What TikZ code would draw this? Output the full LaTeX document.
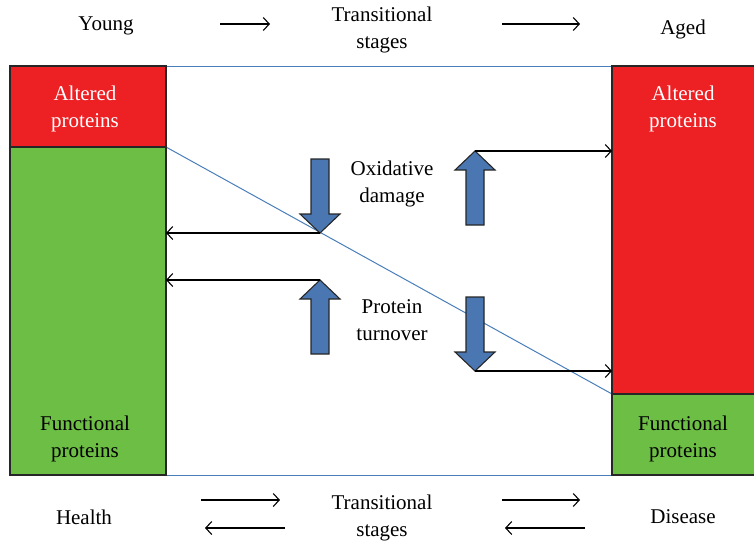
\documentclass[tikz,border=0pt]{standalone}
\usepackage{fontspec}
\setmainfont{Liberation Serif}
\usetikzlibrary{arrows,arrows.meta}
\definecolor{barred}{RGB}{237,32,36}
\definecolor{bargreen}{RGB}{109,190,69}
\definecolor{arrowblue}{RGB}{74,119,178}
\definecolor{lineblue}{RGB}{74,126,187}

\tikzset{
  txt/.style={font=\fontsize{21}{27}\selectfont, align=center, inner sep=1},
  barline/.style={draw=black!85, line width=1.6},
  guide/.style={lineblue, line width=1},
  pointer/.style={black, line width=1.1, ->, >={Straight Barb[length=6pt,width=13pt]}},
  blockarrow/.style={fill=arrowblue, draw=black!85, line width=1.1, line join=miter}
}
% #1 x, #2 y of the tip, #3 direction (1 down, -1 up)
\newcommand{\blockarrow}[3]{%
  \filldraw[blockarrow] ({#1-9},{#2-(#3)*74}) -- ({#1+9},{#2-(#3)*74}) -- ({#1+9},{#2-(#3)*19})
    -- ({#1+20},{#2-(#3)*19}) -- (#1,#2) -- ({#1-20},{#2-(#3)*19}) -- ({#1-9},{#2-(#3)*19}) -- cycle;
}

\begin{document}
\begin{tikzpicture}[x=1pt,y=-1pt]
\useasboundingbox (0,0) rectangle (754,543);
% bar corners
\coordinate (LTL) at (10,66);
\coordinate (LBR) at (166,475);
\coordinate (RTL) at (612,66);
\coordinate (RBR) at (756,475);
\coordinate (LSplit) at (166,147);
\coordinate (RSplit) at (612,394);
% bars
\fill[bargreen] (LTL) rectangle (LBR);
\fill[barred] (LTL) rectangle (LSplit);
\fill[bargreen] (RTL) rectangle (RBR);
\fill[barred] (RTL) rectangle (RBR |- RSplit);
% blue guides
\draw[guide] (LTL -| LBR) -- (RTL);
\draw[guide] (LBR) -- (RTL |- RBR);
\draw[guide] (LSplit) -- (RSplit);
\draw[barline] (LTL) rectangle (LBR);
\draw[barline] (LTL |- LSplit) -- (LSplit);
\draw[barline] (RBR) -- (RTL |- RBR) -- (RTL) -- (RBR |- RTL);
\draw[barline] (RSplit) -- (RBR |- RSplit);
% bar texts
\node[txt, text=white] (altL) at (85,109) {Altered\\proteins};
\node[txt] (funcL) at (85,439) {Functional\\proteins};
\node[txt, text=white] (altR) at (683,109) {Altered\\proteins};
\node[txt] (funcR) at (683,439) {Functional\\proteins};
% block arrows
\coordinate (oxL) at (320,233);
\coordinate (oxR) at (475,151);
\coordinate (tuL) at (320,280);
\coordinate (tuR) at (475,371);
\blockarrow{320}{233}{1}
\blockarrow{475}{151}{-1}
\blockarrow{320}{280}{-1}
\blockarrow{475}{371}{1}
\draw[pointer] (oxL) -- (oxL -| LBR);
\draw[pointer] (tuL) -- (tuL -| LBR);
\draw[pointer] (oxR) -- (oxR -| RTL);
\draw[pointer] (tuR) -- (tuR -| RTL);
\node[txt] (oxid) at (392,184) {Oxidative\\damage};
\node[txt] (turn) at (392,320) {Protein\\turnover};
% top row
\node[txt] (young) at (106,26) {Young};
\node[txt] (transT) at (382,30) {Transitional\\stages};
\node[txt] (aged) at (683,29) {Aged};
\coordinate (ta1) at (220,24);
\coordinate (ta2) at (270,24);
\coordinate (ta3) at (502,24);
\coordinate (ta4) at (580,24);
\draw[pointer] (ta1) -- (ta2);
\draw[pointer] (ta3) -- (ta4);
% bottom row
\node[txt] (health) at (84,517) {Health};
\node[txt] (transB) at (382,518) {Transitional\\stages};
\node[txt] (disease) at (683,517) {Disease};
\coordinate (ba1) at (201,500);
\coordinate (ba2) at (280,500);
\coordinate (ba3) at (205,528);
\coordinate (ba4) at (285,528);
\coordinate (ba5) at (502,500);
\coordinate (ba6) at (580,500);
\coordinate (ba7) at (505,528);
\coordinate (ba8) at (585,528);
\draw[pointer] (ba1) -- (ba2);
\draw[pointer] (ba4) -- (ba3);
\draw[pointer] (ba5) -- (ba6);
\draw[pointer] (ba8) -- (ba7);
\end{tikzpicture}
\end{document}
